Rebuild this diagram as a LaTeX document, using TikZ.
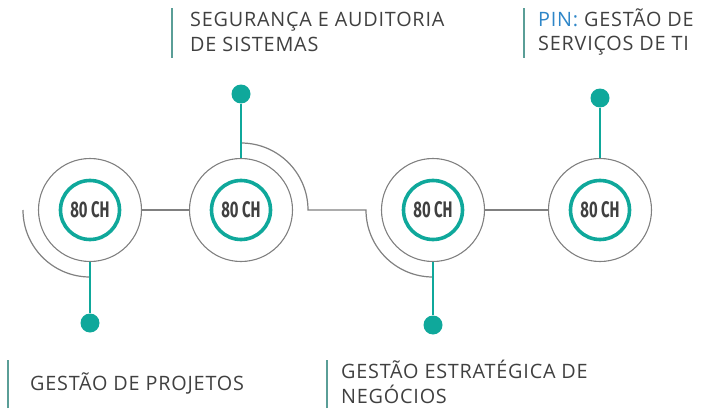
\documentclass[tikz,border=0pt]{standalone}
\usepackage{fontspec}
\setmainfont{Open Sans}[LetterSpace=4]
\newfontfamily\chfont{Fira Sans}
\usetikzlibrary{positioning}
\definecolor{CursoTeal}{HTML}{0FA89B}
\definecolor{CursoGray}{HTML}{808080}
\definecolor{CursoText}{HTML}{404040}
\definecolor{CursoBar}{HTML}{5A9E97}
\definecolor{CursoBlue}{HTML}{2E86C8}
\tikzset{
  outer/.style={circle,draw=CursoGray,line width=1.1pt,minimum size=103pt,inner sep=0pt},
  ring/.style={circle,draw=CursoTeal,line width=3.6pt,minimum size=59pt,inner sep=0pt,
    text=CursoText,font=\chfont\bfseries\fontsize{22.5}{22.5}\selectfont},
  dot/.style={circle,fill=CursoTeal,minimum size=19pt,inner sep=0pt},
  link/.style={draw=CursoGray,line width=1.2pt},
  stem/.style={draw=CursoTeal,line width=2pt},
  bar/.style={draw=CursoBar,line width=2pt},
  coursetext/.style={anchor=west,align=left,inner sep=0pt,text=CursoText,
    font=\fontsize{19.8}{24.5}\selectfont}
}
\newcommand{\ch}{\scalebox{0.66}[1]{80 CH}}

\begin{document}
\begin{tikzpicture}[x=1pt,y=1pt]
        \useasboundingbox (0,0) rectangle (712,408);

        % Course circles
        \node[outer] (c1) at (90,198) {};
        \node[outer] (c2) at (241,198) {};
        \node[outer] (c3) at (433,198) {};
        \node[outer] (c4) at (600,198) {};
        \node[ring] (r1) at (c1) {\ch};
        \node[ring] (r2) at (c2) {\ch};
        \node[ring] (r3) at (c3) {\ch};
        \node[ring] (r4) at (c4) {\ch};

        % Gray track
        \coordinate (a1) at (23,198);
        \coordinate (a2) at (241,265);
        \draw[link] (a1) arc[start angle=180,end angle=270,radius=67];
        \draw[link] (c1.east) -- (c2.west);
        \draw[link] (a2) arc[start angle=90,end angle=0,radius=67] -- ++(58,0)
          arc[start angle=180,end angle=270,radius=67];
        \draw[link] (c3.east) -- (c4.west);

        % Teal stems and dots
        \node[dot] (d1) at (90,85) {};
        \node[dot] (d2) at (241,314) {};
        \node[dot] (d3) at (433,83) {};
        \node[dot] (d4) at (600,310) {};
        \draw[stem] (c1.south) -- (d1);
        \draw[stem] (c2.north) -- (d2);
        \draw[stem] (c3.south) -- (d3);
        \draw[stem] (c4.north) -- (d4);

        % Course names
        \node[coursetext] (t1) at (30,25) {GESTÃO DE PROJETOS};
        \node[coursetext] (t2) at (190,376) {SEGURANÇA E AUDITORIA\\DE SISTEMAS};
        \node[coursetext] (t3) at (341,26) {GESTÃO ESTRATÉGICA DE\\NEGÓCIOS};
        \node[coursetext] (t4) at (538,376) {{\color{CursoBlue}PIN:} GESTÃO DE\\SERVIÇOS DE TI};
        \draw[bar] (8,0) -- (8,48);
        \draw[bar] (172,350) -- (172,400);
        \draw[bar] (327,0) -- (327,48);
        \draw[bar] (524,350) -- (524,400);
      \end{tikzpicture}
\end{document}
